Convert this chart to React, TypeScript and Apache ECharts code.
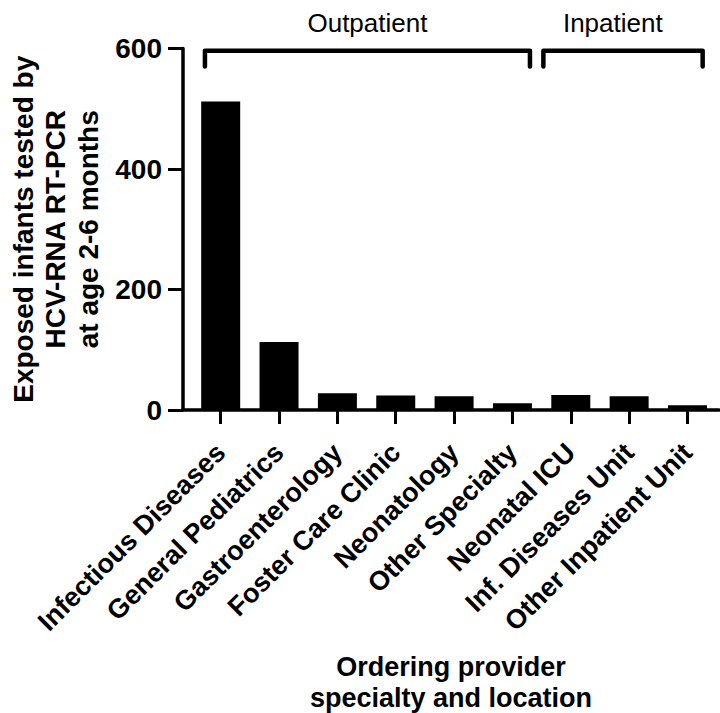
import React, { useEffect, useRef } from "react";
import * as echarts from "echarts";

// ---- data ----
const categories = [
  "Infectious Diseases",
  "General Pediatrics",
  "Gastroenterology",
  "Foster Care Clinic",
  "Neonatology",
  "Other Specialty",
  "Neonatal ICU",
  "Inf. Diseases Unit",
  "Other Inpatient Unit",
];
const counts = [512, 113, 28, 24, 23, 11, 25, 23, 8];
const yMin = 0;
const yMax = 600;
const yStep = 200;
const groupNames = ["Outpatient", "Inpatient"];
const groupFirst = [0, 6];
const groupLast = [5, 8];

// ---- style / layout constants ----
const FONT = "'Liberation Sans', Arial, Helvetica, sans-serif";
const bracketPadL = [0.27, 0.47];
const bracketPadR = [0.3, 0.26];
const labelShift = [0, -0.175];

export default function App() {
  const ref = useRef<HTMLDivElement>(null);

  useEffect(() => {
    document.body.style.margin = "0";
    const chart = echarts.init(ref.current!, null, { renderer: "svg" });
    const idx = categories.map((_, i) => i);

    const bracketData = groupNames.map((_, i) => {
      const s = groupFirst[i] - bracketPadL[i];
      const e = groupLast[i] + bracketPadR[i];
      return [s, e, (s + e) / 2 + labelShift[i]];
    });

    chart.setOption({
      animation: false,
      backgroundColor: "#fff",
      grid: {
        left: 183,
        right: 1,
        top: 48.5,
        bottom: 303,
        containLabel: false,
        outerBoundsMode: "none",
      },
      xAxis: {
        type: "value",
        min: -0.646,
        max: 8.54,
        splitLine: { show: false },
        axisLine: { show: true, onZero: false, lineStyle: { color: "#000", width: 3.5 } },
        axisTick: {
          show: true,
          customValues: idx,
          length: 14,
          lineStyle: { color: "#000", width: 3 },
        },
        axisLabel: {
          customValues: idx,
          formatter: (v: number) => categories[Math.round(v)] ?? "",
          rotate: 45,
          margin: 38,
          fontSize: 27,
          fontWeight: "bold",
          fontFamily: FONT,
          color: "#000",
        },
        name: "Ordering provider\nspecialty and location",
        nameLocation: "middle",
        nameGap: 241,
        nameTextStyle: {
          fontSize: 27,
          fontWeight: "bold",
          fontFamily: FONT,
          color: "#000",
          lineHeight: 31,
        },
      },
      yAxis: {
        type: "value",
        min: yMin,
        max: yMax,
        interval: yStep,
        splitLine: { show: false },
        axisLine: { show: true, onZero: false, lineStyle: { color: "#000", width: 3.5 } },
        axisTick: { show: true, length: 15, lineStyle: { color: "#000", width: 3 } },
        axisLabel: {
          margin: 21,
          fontSize: 28,
          fontWeight: "bold",
          fontFamily: FONT,
          color: "#000",
        },
        name: "Exposed infants tested by\nHCV-RNA RT-PCR\nat age 2-6 months",
        nameLocation: "middle",
        nameRotate: 90,
        nameGap: 78,
        nameTextStyle: {
          fontSize: 28,
          fontWeight: "bold",
          fontFamily: FONT,
          color: "#000",
          lineHeight: 32.5,
        },
      },
      series: [
        {
          type: "bar",
          data: counts.map((v, i) => [i, v]),
          barWidth: 39,
          itemStyle: { color: "#000" },
        },
        {
          type: "custom",
          clip: false,
          silent: true,
          data: bracketData,
          encode: { x: [0, 1, 2] },
          renderItem: (params: any, api: any) => {
            const i = params.dataIndex;
            const p1 = api.coord([api.value(0), yMax]);
            const p2 = api.coord([api.value(1), yMax]);
            const pt = api.coord([api.value(2), yMax]);
            const top = p1[1] + 2.2;
            const bottom = p1[1] + 18;
            return {
              type: "group",
              children: [
                {
                  type: "polyline",
                  shape: {
                    points: [
                      [p1[0], bottom],
                      [p1[0], top],
                      [p2[0], top],
                      [p2[0], bottom],
                    ],
                  },
                  style: {
                    stroke: "#000",
                    fill: null,
                    lineWidth: 4.5,
                    lineJoin: "round",
                    lineCap: "round",
                  },
                },
                {
                  type: "text",
                  x: pt[0],
                  y: p1[1] - 25.5,
                  style: {
                    text: groupNames[i],
                    fontSize: 26,
                    fontFamily: FONT,
                    fill: "#000",
                    align: "center",
                    verticalAlign: "middle",
                  },
                },
              ],
            };
          },
        },
      ],
    });

    return () => chart.dispose();
  }, []);

  return <div ref={ref} style={{ width: 720, height: 713 }} />;
}
